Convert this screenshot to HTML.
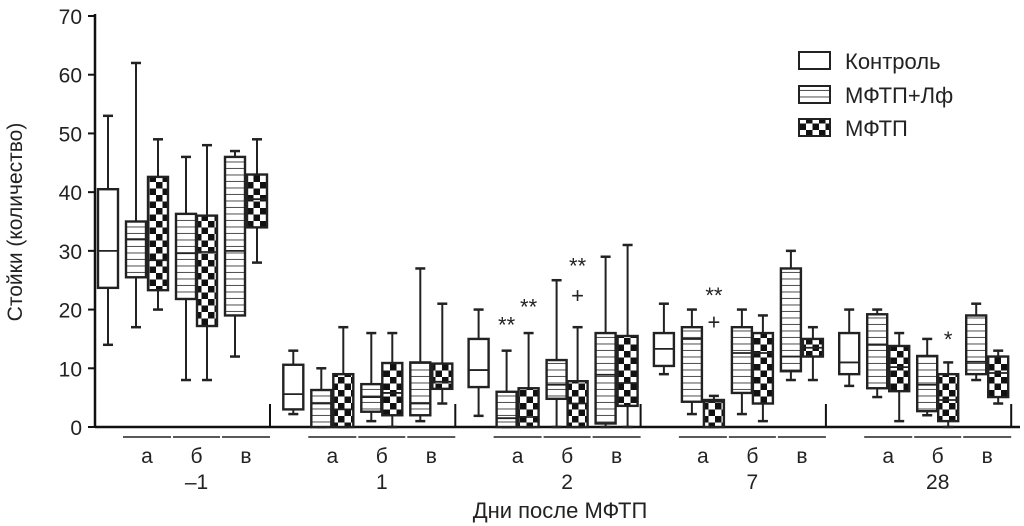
<!DOCTYPE html>
<html><head><meta charset="utf-8">
<style>
html,body{margin:0;padding:0;background:#fff;}
svg{display:block;font-family:"Liberation Sans","DejaVu Sans",sans-serif;}
</style></head>
<body>
<svg id="chart" width="1024" height="526" viewBox="0 0 1024 526">
<defs>
<pattern id="stripes" patternUnits="userSpaceOnUse" width="8" height="6.5">
<rect width="8" height="6.5" fill="#fff"/><line x1="0" y1="6" x2="8" y2="6" stroke="#555" stroke-width="1.1"/>
</pattern>
<pattern id="checker" patternUnits="userSpaceOnUse" width="13" height="13">
<rect width="13" height="13" fill="#fff"/><rect x="0" y="0" width="6.5" height="6.5" fill="#111"/><rect x="6.5" y="6.5" width="6.5" height="6.5" fill="#111"/>
</pattern>
</defs>
<g id="plot"></g>
</svg>
<script>
const days = ["\u20131","1","2","7","28"];
const subgroups = ["а","б","в"];
const seriesNames = ["Контроль","МФТП+Лф","МФТП"];
const yTicks = [0,10,20,30,40,50,60,70];
// each box: [whiskerLow, q1, median, q3, whiskerHigh]
const controlData = [
  [14,23.7,30,40.5,53],
  [2.2,3,5.6,10.6,13],
  [1.9,6.8,9.7,15,20],
  [9,10.4,13.3,16,21],
  [7,9,11,16,20]
];
const lfData = [ // [day][subgroup]
  [[17,25.5,32,35,62],[8,21.8,29.6,36.3,46],[12,19,30,46,47]],
  [[0,0,4,6.3,10],[1,2.6,5.1,7.3,16],[1,2,4,11,27]],
  [[0,0,1.5,6,13],[0,4.8,7.2,11.4,25],[0,0.6,8.9,16,29]],
  [[2.2,4.3,15,17,20],[2.2,5.8,12.6,17,20],[8,9.5,12,27,30]],
  [[5.1,6.6,14,19.2,20],[2,2.7,7.2,12.1,15],[8,9,11.1,19,21]]
];
const mftpData = [
  [[20,23.3,28.4,42.6,49],[8,17.2,29.8,36,48],[28,34,38.8,43,49]],
  [[0,0,3,9,17],[0,2,5.8,10.9,16],[4,6.5,7.7,10.8,21]],
  [[0,0,1.7,6.6,16],[0,0,4,7.8,17],[0,3.6,7.5,15.5,31]],
  [[0,0,4.3,4.6,5.3],[1,4,12.6,16,19],[8,12,13.5,15,17]],
  [[1,6.1,10.2,13.8,16],[0,1,4.6,9,11],[4,5.1,9.2,12,13]]
];
// annotations: [dayIndex, offsetKey, value, text]
const annotations = [
  [2,"a1",17.5,"**"],[2,"a2",20.5,"**"],[2,"b2",27.5,"**"],[2,"b2",22.5,"+"],
  [3,"a2",22.5,"**"],[3,"a2",18,"+"],[4,"b2",15,"*"]
];

const NS="http://www.w3.org/2000/svg";
const g=document.getElementById("plot");
const X0=95, Y0=427, YT=16, YMAX=70;
const y=v=>Y0-(v/YMAX)*(Y0-YT);
const dayX=d=>108+185.3*d;
const offs={c:0,a1:28,a2:50,b1:78,b2:99,v1:127,v2:149};
const BW=20;
function mk(tag,attrs,parent){const e=document.createElementNS(NS,tag);for(const k in attrs)e.setAttribute(k,attrs[k]);(parent||g).appendChild(e);return e;}

// axes
const ax=mk("line",{x1:X0,y1:YT-2,x2:X0,y2:Y0+1,stroke:"#111","stroke-width":2.5});


const bx=mk("line",{x1:X0,y1:Y0,x2:1020,y2:Y0,stroke:"#111","stroke-width":2.5});


yTicks.forEach(t=>{
  const tk=mk("line",{x1:X0-7,y1:y(t),x2:X0,y2:y(t),stroke:"#111","stroke-width":2});
  
  
  const tl=mk("text",{x:X0-13,y:y(t)+8,"text-anchor":"end","font-size":21,fill:"#222"});
  tl.textContent=t;
  
  
});
const yt=mk("text",{x:0,y:0,transform:"translate(22,222) rotate(-90)","text-anchor":"middle","font-size":21,fill:"#222"});
yt.textContent="Стойки (количество)";


const xt=mk("text",{x:560,y:518,"text-anchor":"middle","font-size":22,fill:"#222"});
xt.textContent="Дни после МФТП";



// separators
[0,1,2,3,4].forEach(d=>{
  const sx=dayX(d)+162;
  const s=mk("line",{x1:sx,y1:404,x2:sx,y2:Y0,stroke:"#111","stroke-width":2});
  
  
});

function box(cx,vals,fill,name){
  const [lo,q1,med,q3,hi]=vals;
  const grp=mk("g",{});
  
  
  mk("line",{x1:cx,y1:y(hi),x2:cx,y2:y(lo),stroke:"#222","stroke-width":2},grp);
  mk("line",{x1:cx-5,y1:y(hi),x2:cx+5,y2:y(hi),stroke:"#222","stroke-width":2.5},grp);
  mk("line",{x1:cx-5,y1:y(lo),x2:cx+5,y2:y(lo),stroke:"#222","stroke-width":2.5},grp);
  const top=y(q3), bot=y(q1);
  mk("rect",{x:cx-BW/2,y:top,width:BW,height:Math.max(bot-top,1),fill:fill,stroke:"#222","stroke-width":2.4},grp);
  mk("line",{x1:cx-BW/2,y1:y(med),x2:cx+BW/2,y2:y(med),stroke:"#222","stroke-width":1.8},grp);
}

days.forEach((dl,d)=>{
  const x0=dayX(d);
  box(x0,controlData[d],"#fff","box-control-day"+d);
  ["a","b","v"].forEach((k,s)=>{
    const c1=x0+offs[k+"1"], c2=x0+offs[k+"2"];
    box(c1,lfData[d][s],"url(#stripes)","box-mftp-lf-day"+d+"-"+subgroups[s]);
    box(c2,mftpData[d][s],"url(#checker)","box-mftp-day"+d+"-"+subgroups[s]);
    const ul=mk("line",{x1:c1-13,y1:437,x2:c2+13,y2:437,stroke:"#222","stroke-width":1.5});
    
    
    const sl=mk("text",{x:(c1+c2)/2,y:463,"text-anchor":"middle","font-size":21,fill:"#222"});
    sl.textContent=subgroups[s];
    
    
  });
  const dt=mk("text",{x:x0+(offs.b1+offs.b2)/2,y:489,"text-anchor":"middle","font-size":21,fill:"#222"});
  dt.textContent=dl;
  
  
});

annotations.forEach(a=>{
  const t=mk("text",{x:dayX(a[0])+offs[a[1]],y:y(a[2])+8,"text-anchor":"middle","font-size":22,fill:"#222"});
  t.textContent=a[3];
  
  
});

// legend
const fills=["#fff","url(#stripes)","url(#checker)"];
const ly=[52,86,119];
seriesNames.forEach((n,i)=>{
  const r=mk("rect",{x:799,y:ly[i],width:31,height:17,fill:fills[i],stroke:"#222","stroke-width":2});
  
  
  const t=mk("text",{x:845,y:ly[i]+17,"font-size":22,fill:"#222"});
  t.textContent=n;
  
  
});
</script>
</body></html>
